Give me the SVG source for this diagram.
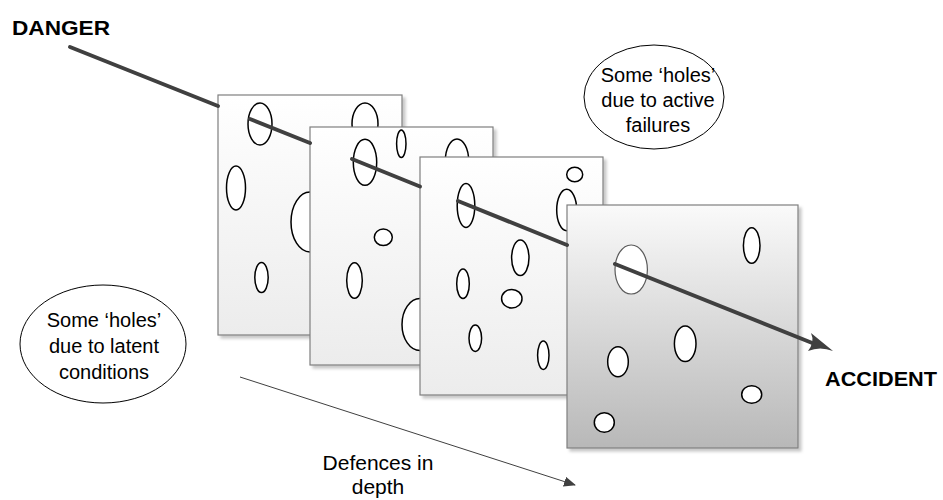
<svg xmlns="http://www.w3.org/2000/svg" width="943" height="500" viewBox="0 0 943 500">
  <style>
    .panel { stroke: #7f7f7f; stroke-width: 1.2; filter: url(#shadow); }
    .hole { fill: #ffffff; stroke: #000000; stroke-width: 1.5; }
    .path { fill: none; stroke: #404040; stroke-width: 4; stroke-linecap: round; }
    .callout { fill: #ffffff; stroke: #000000; stroke-width: 1; }
    .txt { font-family: "Liberation Sans", Arial, sans-serif; font-size: 20px; fill: #000000; text-anchor: middle; }
    .big { font-family: "Liberation Sans", Arial, sans-serif; font-size: 21px; font-weight: bold; fill: #000000; }
  </style>
  <defs>
    <linearGradient id="light" x1="0" y1="0" x2="0" y2="1">
      <stop offset="0" stop-color="#ffffff"/>
      <stop offset="1" stop-color="#ececec"/>
    </linearGradient>
    <linearGradient id="dark" x1="0" y1="0" x2="0" y2="1">
      <stop offset="0" stop-color="#fafafa"/>
      <stop offset="1" stop-color="#b8b8b8"/>
    </linearGradient>
    <filter id="shadow" x="-5%" y="-5%" width="115%" height="115%">
      <feDropShadow dx="3" dy="3" stdDeviation="1.5" flood-color="#000000" flood-opacity="0.22"/>
    </filter>
    <marker id="thinHead" viewBox="0 0 12 10" refX="11" refY="5" markerWidth="12" markerHeight="10" markerUnits="userSpaceOnUse" orient="auto">
      <path d="M0,0 L12,5 L0,10 Z" fill="#404040"/>
    </marker>
  </defs>

  <!-- slice 1 -->
  <g id="slice1">
    <rect class="panel" x="218" y="95" width="184" height="240" fill="url(#light)"/>
    <ellipse class="hole" cx="260" cy="124" rx="12" ry="21"/>
    <ellipse class="hole" cx="365" cy="124" rx="13" ry="21"/>
    <ellipse class="hole" cx="236" cy="188" rx="9.5" ry="22"/>
    <ellipse class="hole" cx="310" cy="222" rx="19" ry="30"/>
    <ellipse class="hole" cx="261.5" cy="277.5" rx="6.7" ry="15"/>
  </g>

  <!-- slice 2 -->
  <g id="slice2">
    <rect class="panel" x="310" y="127" width="183" height="238" fill="url(#light)"/>
    <ellipse class="hole" cx="401.3" cy="143.7" rx="4.7" ry="13.7"/>
    <ellipse class="hole" cx="365" cy="162.3" rx="11.7" ry="23"/>
    <ellipse class="hole" cx="457" cy="161" rx="11.7" ry="22"/>
    <ellipse class="hole" cx="383.3" cy="237.3" rx="9" ry="8.3"/>
    <ellipse class="hole" cx="354.5" cy="280.5" rx="7.8" ry="17.8"/>
    <ellipse class="hole" cx="420" cy="324.5" rx="18" ry="26"/>
  </g>

  <!-- slice 3 -->
  <g id="slice3">
    <rect class="panel" x="420" y="157" width="183" height="238" fill="url(#light)"/>
    <ellipse class="hole" cx="574.7" cy="174.5" rx="8" ry="7.2"/>
    <ellipse class="hole" cx="566.7" cy="210" rx="10" ry="20.7"/>
    <ellipse class="hole" cx="466" cy="205.5" rx="8.8" ry="22"/>
    <ellipse class="hole" cx="520.3" cy="257.8" rx="8.7" ry="17.8"/>
    <ellipse class="hole" cx="463" cy="283.7" rx="6.3" ry="14.7"/>
    <ellipse class="hole" cx="511.8" cy="298.7" rx="10.2" ry="9.3"/>
    <ellipse class="hole" cx="475.3" cy="338.2" rx="6.3" ry="13.2"/>
    <ellipse class="hole" cx="543.3" cy="355.2" rx="5.7" ry="14.2"/>
  </g>

  <!-- slice 4 -->
  <g id="slice4">
    <rect class="panel" x="567" y="205" width="231" height="243" fill="url(#dark)"/>
    <ellipse cx="631.2" cy="269.5" rx="16.2" ry="24.5" fill="#ffffff" stroke="#5a5a5a" stroke-width="1.2"/>
    <ellipse class="hole" cx="751.7" cy="245.5" rx="8.3" ry="17.8"/>
    <ellipse class="hole" cx="685.2" cy="343.8" rx="10.8" ry="17.8"/>
    <ellipse class="hole" cx="618" cy="361.7" rx="10.3" ry="15"/>
    <ellipse class="hole" cx="751.7" cy="394.5" rx="10" ry="8.8"/>
    <ellipse class="hole" cx="604.3" cy="422.5" rx="10" ry="9.8"/>
  </g>

  <!-- hazard trajectory through the slices -->
  <g id="connectors">
    <line class="path" x1="70" y1="47" x2="218" y2="106"/>
    <line class="path" x1="250" y1="119" x2="310" y2="143"/>
    <line class="path" x1="352" y1="159" x2="420" y2="186.5"/>
    <line class="path" x1="458" y1="201" x2="567" y2="245"/>
    <line class="path" x1="615" y1="264" x2="816" y2="344.5"/>
    <path d="M833,351 L811,333 Q815,342 808,351 Q820,346 833,351 Z" fill="#404040"/>
    <line x1="240" y1="377" x2="575" y2="485" stroke="#404040" stroke-width="1" marker-end="url(#thinHead)"/>
  </g>

  <!-- callouts -->
  <g id="activeFailures">
    <ellipse class="callout" cx="654" cy="97" rx="70" ry="52"/>
    <text class="txt" x="658" y="82">Some ‘holes’</text>
    <text class="txt" x="658" y="107">due to active</text>
    <text class="txt" x="658" y="132">failures</text>
  </g>

  <g id="latentConditions">
    <ellipse class="callout" cx="103" cy="344" rx="83" ry="59"/>
    <text class="txt" x="104" y="327">Some ‘holes’</text>
    <text class="txt" x="104" y="353">due to latent</text>
    <text class="txt" x="104" y="379">conditions</text>
  </g>

  <g id="labels">
    <text class="big" x="12" y="35" textLength="98" lengthAdjust="spacingAndGlyphs">DANGER</text>
    <text class="big" x="825" y="386" textLength="112" lengthAdjust="spacingAndGlyphs">ACCIDENT</text>
    <text class="txt" x="378" y="470" style="font-size:21px">Defences in</text>
    <text class="txt" x="378" y="494" style="font-size:21px">depth</text>
  </g>
</svg>
